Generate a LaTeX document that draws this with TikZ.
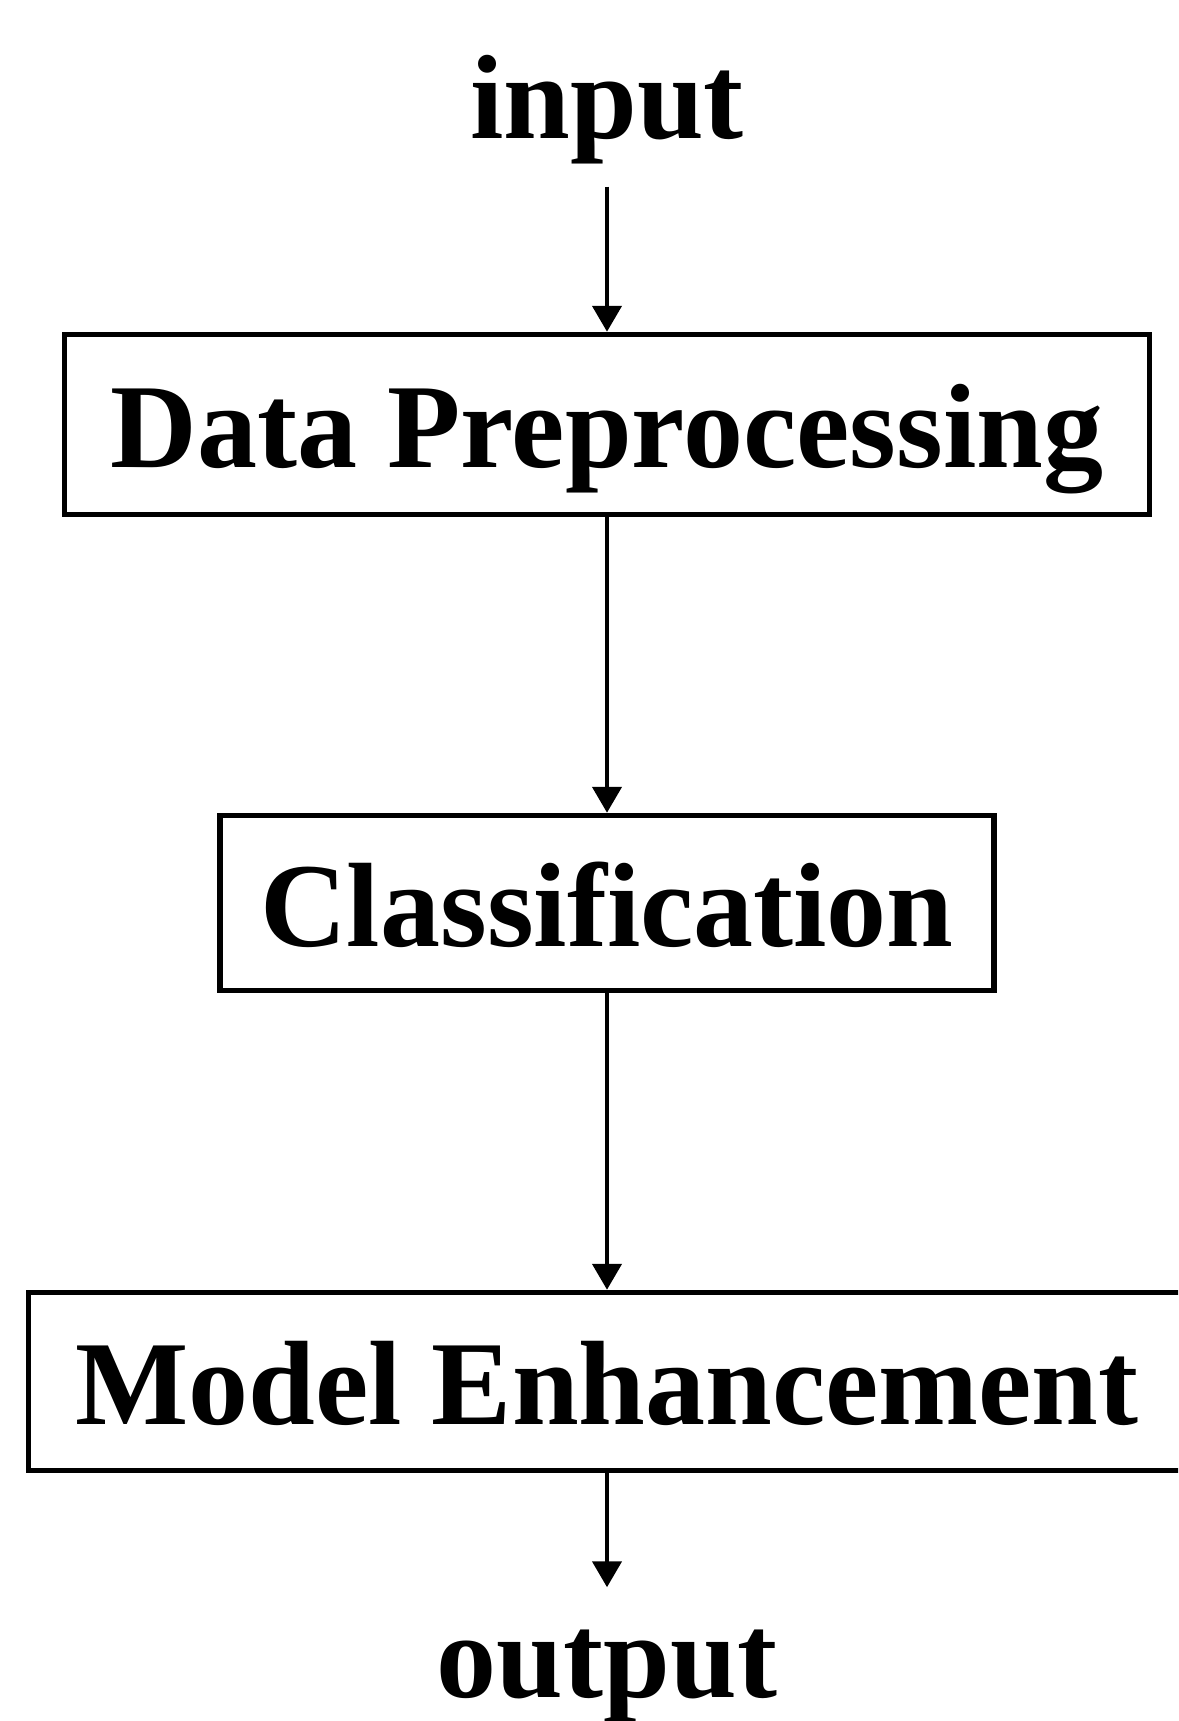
\documentclass[tikz,border=0pt]{standalone}
\usepackage{fontspec}
\setmainfont{Liberation Serif}
\usetikzlibrary{arrows.meta}
\begin{document}
\begin{tikzpicture}[x=1pt,y=-1pt,
  bigtext/.style={font=\fontsize{120pt}{140pt}\selectfont\bfseries, inner sep=0pt},
  box/.style={bigtext, draw, line width=5.5pt, text height=86pt, text depth=0pt},
  arr/.style={-{Triangle[width=29pt,length=26pt]}, line width=4.5pt}]
\useasboundingbox (0,0) rectangle (1178,1721);
\clip (0,0) rectangle (1178,1721);
\fill[white] (0,0) rectangle (1178,1721);
\node[bigtext, anchor=base] (input) at (607,138) {input};
\node[box, minimum width=1085pt, minimum height=180pt] (b1) at (607,424.5) {Data Preprocessing};
\node[box, minimum width=774pt, minimum height=175pt] (b2) at (607,903) {Classification};
\node[box, minimum width=1157pt, minimum height=178pt] (b3) at (607,1381.5) {Model Enhancement};
\node[bigtext, anchor=base] (output) at (607,1697) {output};
\draw[arr, shorten <=23pt] (input.south) -- (b1.north);
\draw[arr] (b1.south) -- (b2.north);
\draw[arr] (b2.south) -- (b3.north);
\draw[arr, shorten >=42pt] (b3.south) -- (output.north);
\end{tikzpicture}
\end{document}
